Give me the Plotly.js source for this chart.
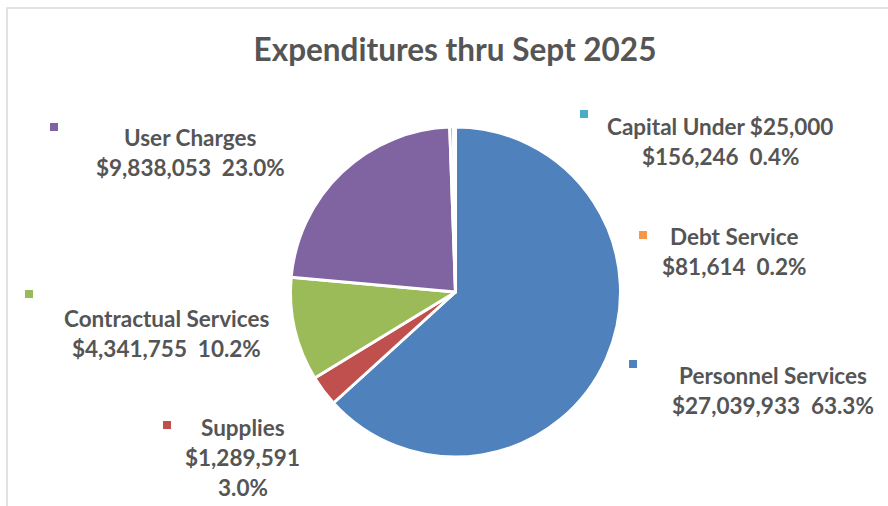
<!DOCTYPE html>
<html>
<head>
<meta charset="utf-8">
<script src="https://cdn.plot.ly/plotly-3.0.1.min.js"></script>
<style>html,body{margin:0;padding:0;background:#fff;}#chart{width:888px;height:506px;}</style>
</head>
<body>
<div id="chart"></div>
<script>
const categories = ["Personnel Services", "Supplies", "Contractual Services", "User Charges", "Capital Under $25,000", "Debt Service"];
const amounts = [27039933, 1289591, 4341755, 9838053, 156246, 81614];
const colors = ["#4F81BD", "#C0504D", "#9BBB59", "#8064A2", "#4BACC6", "#F79646"];

const W = 888, H = 506;
const px = x => x / W;
const py = y => 1 - y / H;
const total = amounts.reduce((a, b) => a + b, 0);
const money = v => "$" + v.toLocaleString("en-US");
const pct = v => (v / total * 100).toFixed(1) + "%";

// label layout (pixel positions of line centers and key squares)
const labelPos = [
  {cx: 773, ys: [375, 405], key: [633, 364], split: false},
  {cx: 243, ys: [427, 457, 487], key: [167, 425], split: true},
  {cx: 166, ys: [318, 348], key: [29, 294], split: false},
  {cx: 190, ys: [137, 167], key: [54, 127], split: false},
  {cx: 720, ys: [126, 156], key: [584, 114], split: false},
  {cx: 734, ys: [237, 266], key: [643, 235], split: false}
];

const font = {family: "Lato, 'Open Sans', sans-serif", size: 22.5, color: "#555555"};
const annotations = [];
const shapes = [];
categories.forEach((c, i) => {
  const p = labelPos[i];
  const texts = p.split ? [c, money(amounts[i]), pct(amounts[i])] : [c, money(amounts[i]) + "  " + pct(amounts[i])];
  texts.forEach((t, j) => {
    annotations.push({
      text: "<b>" + t.replace(/\$/g, "&#36;") + "</b>", xref: "paper", yref: "paper",
      x: px(p.cx), y: py(p.ys[j]), xanchor: "center", yanchor: "middle",
      showarrow: false, font: font
    });
  });
  shapes.push({
    type: "rect", xref: "paper", yref: "paper",
    x0: px(p.key[0] - 4), x1: px(p.key[0] + 4), y0: py(p.key[1] + 4), y1: py(p.key[1] - 4),
    fillcolor: colors[i], line: {width: 0}
  });
});
// chart area border (cropped at right/bottom)
shapes.push({type: "rect", xref: "paper", yref: "paper", x0: px(7), x1: px(W + 20), y0: py(H + 20), y1: py(8),
  line: {color: "#D9D9D9", width: 1.5}, fillcolor: "rgba(0,0,0,0)"});

const cx = 455.5, cy = 292, r = 165;
const data = [{
  type: "pie",
  labels: categories,
  values: amounts,
  sort: false,
  direction: "clockwise",
  rotation: 0,
  textinfo: "none",
  hoverinfo: "label+value+percent",
  marker: {colors: colors, line: {color: "#FFFFFF", width: 3}},
  domain: {x: [px(cx - r), px(cx + r)], y: [py(cy + r), py(cy - r)]},
  showlegend: false
}];

const layout = {
  width: W, height: H,
  margin: {l: 0, r: 0, t: 0, b: 0},
  paper_bgcolor: "#FFFFFF",
  title: {text: "<b>Expenditures thru Sept 2025</b>", x: px(455), y: py(50), xanchor: "center", yanchor: "middle",
    font: {family: "Lato, 'Open Sans', sans-serif", size: 31.5, color: "#555555"}},
  annotations: annotations,
  shapes: shapes,
  showlegend: false
};

Plotly.newPlot("chart", data, layout, {displayModeBar: false, staticPlot: true});
</script>
</body>
</html>
